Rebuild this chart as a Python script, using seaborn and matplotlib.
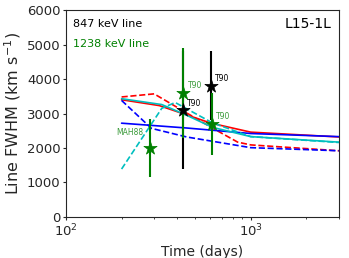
import numpy as np
import pandas as pd
import matplotlib
matplotlib.use("Agg")
import matplotlib.pyplot as plt
import seaborn as sns

# ---- model curves (days, km/s) ----
red_solid_t = [200, 320, 450, 610, 1000, 3000]
red_solid_v = [3400, 3230, 2960, 2720, 2460, 2320]

red_dash_t = [200, 300, 620, 850, 1000, 3000]
red_dash_v = [3480, 3570, 2580, 2170, 2090, 1920]

blue_solid_t = [200, 450, 1000, 3000]
blue_solid_v = [2720, 2580, 2420, 2330]

blue_dash_t = [200, 290, 450, 1000, 3000]
blue_dash_v = [3380, 2570, 2320, 2010, 1920]

cyan_solid_t = [200, 330, 450, 620, 1000, 3000]
cyan_solid_v = [3430, 3260, 2950, 2600, 2330, 2170]

cyan_dash_t = [200, 330, 390, 620, 1000, 3000]
cyan_dash_v = [1390, 3150, 3320, 2730, 2330, 2160]

# ---- observations ----
obs847_t = [431, 610]
obs847_v = [3100, 3800]
obs847_err = [1700, 1000]
obs847_lab = ["T90", "T90"]

obs1238_t = [285, 432, 615]
obs1238_v = [2000, 3600, 2700]
obs1238_err = [850, 1300, 900]
obs1238_lab = ["MAH88", "T90", "T90"]

sns.set_style("ticks")
plt.rcParams['font.family'] = ['DejaVu Sans']

fig, ax = plt.subplots(figsize=(3.49, 2.58), dpi=100)
fig.subplots_adjust(left=0.189, right=0.971, bottom=0.159, top=0.961)

curves = [
    (red_solid_t, red_solid_v, 'r', '-'),
    (red_dash_t, red_dash_v, 'r', '--'),
    (blue_solid_t, blue_solid_v, 'b', '-'),
    (blue_dash_t, blue_dash_v, 'b', '--'),
    (cyan_solid_t, cyan_solid_v, 'c', '-'),
    (cyan_dash_t, cyan_dash_v, 'c', '--'),
]
for t, v, c, ls in curves:
    sns.lineplot(x=t, y=v, color=c, linestyle=ls, lw=1.2, ax=ax, sort=False)

# error bars + stars
ax.errorbar(obs847_t, obs847_v, yerr=obs847_err, fmt='none', ecolor='k', elinewidth=1.5, zorder=4)
ax.errorbar(obs1238_t, obs1238_v, yerr=obs1238_err, fmt='none', ecolor='g', elinewidth=1.5, zorder=5)
sns.scatterplot(x=obs847_t, y=obs847_v, marker='*', s=100, color='k', edgecolor='k', linewidth=0.5, ax=ax, zorder=6)
sns.scatterplot(x=obs1238_t, y=obs1238_v, marker='*', s=100, color='g', edgecolor='g', linewidth=0.5, ax=ax, zorder=6)

for t, v, lab in zip(obs847_t, obs847_v, obs847_lab):
    ax.annotate(lab, (t, v), xytext=(3, 5), textcoords='offset points',
                fontsize=5.5, color='k', va='center', ha='left')
for t, v, lab in zip(obs1238_t, obs1238_v, obs1238_lab):
    if lab == "MAH88":
        ax.annotate(lab, (t, v), xytext=(-5, 11), textcoords='offset points',
                    fontsize=5.5, color='#3a9a3a', va='center', ha='right')
    else:
        ax.annotate(lab, (t, v), xytext=(3, 5), textcoords='offset points',
                    fontsize=5.5, color='#3a9a3a', va='center', ha='left')

ax.text(0.026, 0.932, "847 keV line", transform=ax.transAxes, fontsize=8, color='k', va='center')
ax.text(0.026, 0.836, "1238 keV line", transform=ax.transAxes, fontsize=8, color='g', va='center')
ax.text(0.974, 0.932, "L15-1L", transform=ax.transAxes, fontsize=10, color='k', va='center', ha='right')

ax.set_xscale('log')
ax.set_xlim(100, 3000)
ax.set_ylim(0, 6000)
ax.set_yticks(np.arange(0, 6001, 1000))
ax.set_xlabel("Time (days)", fontsize=10)
ax.set_ylabel("Line FWHM (km s$^{-1}$)", fontsize=11.5, labelpad=3)
ax.tick_params(axis='both', which='major', labelsize=9.5, length=2.5, width=0.8, pad=1.5)
ax.tick_params(axis='both', which='minor', length=1.5, width=0.6)
for s in ax.spines.values():
    s.set_linewidth(0.8)

fig.savefig("out.png", dpi=100)
